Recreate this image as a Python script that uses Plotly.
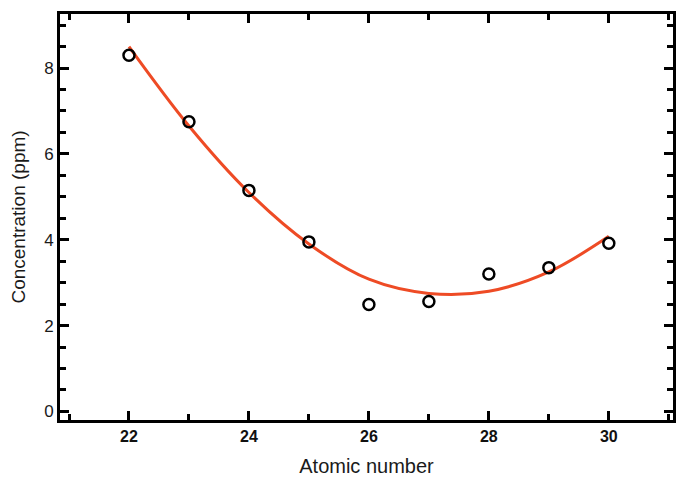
import plotly.graph_objects as go

atomic_number = [22, 23, 24, 25, 26, 27, 28, 29, 30]
concentration = [8.3, 6.75, 5.15, 3.95, 2.49, 2.56, 3.2, 3.35, 3.92]

fit_x = [22, 23, 24, 25, 26, 27, 28, 29, 30]
fit_y = [8.5, 6.65, 5.1, 3.9, 3.08, 2.75, 2.8, 3.25, 4.08]

x_ticks = [22, 24, 26, 28, 30]
y_ticks = [0, 2, 4, 6, 8]

FONT = "Liberation Sans, Arial, sans-serif"

fig = go.Figure()
fig.add_trace(go.Scatter(
    x=fit_x, y=fit_y, mode="lines",
    line=dict(color="#EE4B25", width=3, shape="spline", smoothing=1.0),
    showlegend=False, hoverinfo="skip"))
fig.add_trace(go.Scatter(
    x=atomic_number, y=concentration, mode="markers",
    marker=dict(symbol="circle-open", size=11, color="black", line=dict(width=2.5, color="black")),
    showlegend=False))

axis_common = dict(
    showline=True, linecolor="black", linewidth=3, mirror="allticks",
    ticks="inside", ticklen=9, tickwidth=2.5, tickcolor="black",
    showgrid=False, zeroline=False, automargin=False,
)

fig.update_layout(
    width=677, height=478,
    margin=dict(l=60, r=4, t=14, b=58),
    paper_bgcolor="white", plot_bgcolor="white",
    xaxis=dict(
        range=[20.85, 31.07], tickvals=x_ticks,
        tickfont=dict(family=FONT, size=16, color="#111111", weight="bold"),
        minor=dict(dtick=1, tick0=21, ticks="inside", ticklen=6, tickwidth=2.5, tickcolor="black", showgrid=False),
        title=dict(text="Atomic number", standoff=15,
                   font=dict(family=FONT, size=20, color="#1a1a1a")),
        **axis_common),
    yaxis=dict(
        range=[-0.2, 9.26], tickvals=y_ticks,
        tickfont=dict(family=FONT, size=17, color="#1a1a1a"),
        minor=dict(dtick=0.5, tick0=0, ticks="inside", ticklen=6, tickwidth=2.5, tickcolor="black", showgrid=False),
        title=dict(text="Concentration (ppm)", standoff=14,
                   font=dict(family=FONT, size=19, color="#1a1a1a")),
        **axis_common),
)

fig.write_html("out.html", config={"displayModeBar": False},
               post_script="document.body.style.margin='0';")
